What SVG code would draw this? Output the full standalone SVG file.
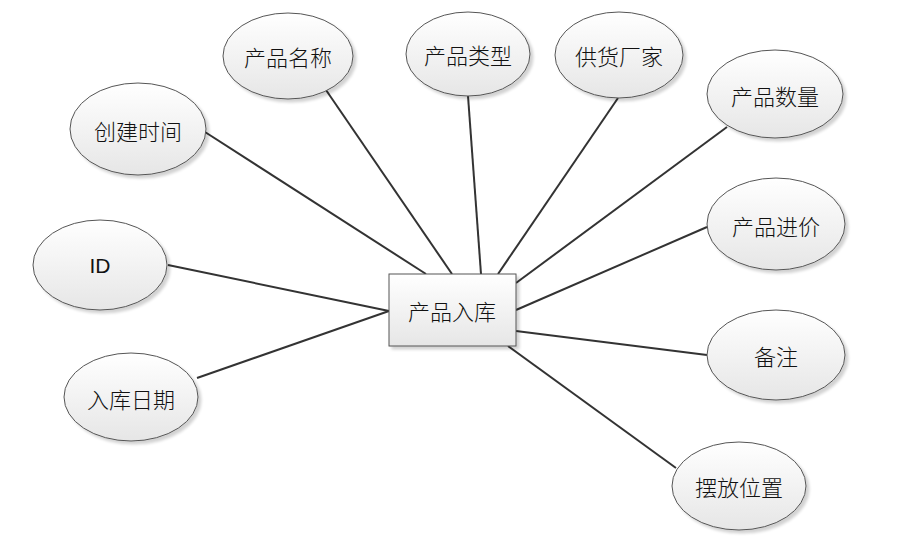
<svg xmlns="http://www.w3.org/2000/svg" width="920" height="544" viewBox="0 0 920 544">
<defs>
<linearGradient id="g" x1="0" y1="0" x2="0" y2="1">
<stop offset="0" stop-color="#ffffff"/>
<stop offset="1" stop-color="#e6e6e6"/>
</linearGradient>
<filter id="sh" x="-20%" y="-20%" width="150%" height="150%">
<feGaussianBlur in="SourceAlpha" stdDeviation="1.5"/>
<feOffset dx="3" dy="3" result="b"/>
<feComponentTransfer><feFuncA type="linear" slope="0.18"/></feComponentTransfer>
<feMerge><feMergeNode/><feMergeNode in="SourceGraphic"/></feMerge>
</filter>
</defs>
<style>
.n{fill:url(#g);stroke:#555;stroke-width:1;filter:url(#sh)}
.c{stroke:#333;stroke-width:2;fill:none}
.t{font-family:"Noto Sans CJK SC","Liberation Sans",sans-serif;font-size:22px;font-weight:300;fill:#111;text-anchor:middle;dominant-baseline:central}
.e{font-family:"Liberation Sans",sans-serif;font-size:21px;fill:#111;text-anchor:middle;dominant-baseline:central}
</style>
<rect width="920" height="544" fill="#fff"/>
<g id="connectors">
<line class="c" x1="205" y1="132" x2="426" y2="274"/>
<line class="c" x1="326" y1="90" x2="452" y2="274"/>
<line class="c" x1="468" y1="96" x2="481" y2="274"/>
<line class="c" x1="618" y1="98" x2="498" y2="274"/>
<line class="c" x1="727" y1="127" x2="516" y2="283"/>
<line class="c" x1="707" y1="227" x2="516" y2="310"/>
<line class="c" x1="707" y1="355" x2="516" y2="331"/>
<line class="c" x1="508" y1="346" x2="676" y2="468"/>
<line class="c" x1="168" y1="265" x2="389" y2="311"/>
<line class="c" x1="197" y1="378" x2="389" y2="311"/>
</g>
<g id="center">
<rect class="n" x="389" y="274" width="127" height="72"/>
<text class="t" x="452" y="310">产品入库</text>
</g>
<g id="n1"><ellipse class="n" cx="138" cy="129" rx="68" ry="46"/><text class="t" x="138" y="130">创建时间</text></g>
<g id="n2"><ellipse class="n" cx="288" cy="56" rx="65" ry="43"/><text class="t" x="288" y="56">产品名称</text></g>
<g id="n3"><ellipse class="n" cx="468" cy="54" rx="62" ry="42"/><text class="t" x="468" y="54">产品类型</text></g>
<g id="n4"><ellipse class="n" cx="619" cy="55" rx="64" ry="43"/><text class="t" x="619" y="55">供货厂家</text></g>
<g id="n5"><ellipse class="n" cx="775" cy="94" rx="68" ry="44"/><text class="t" x="775" y="95">产品数量</text></g>
<g id="n6"><ellipse class="n" cx="100" cy="265" rx="67" ry="45"/><text class="e" x="100" y="265">ID</text></g>
<g id="n7"><ellipse class="n" cx="776" cy="224" rx="69" ry="46"/><text class="t" x="776" y="225">产品进价</text></g>
<g id="n8"><ellipse class="n" cx="776" cy="355" rx="69" ry="45"/><text class="t" x="776" y="355">备注</text></g>
<g id="n9"><ellipse class="n" cx="131" cy="397" rx="67" ry="44"/><text class="t" x="131" y="398">入库日期</text></g>
<g id="n10"><ellipse class="n" cx="739" cy="486" rx="67" ry="44"/><text class="t" x="739" y="486">摆放位置</text></g>
</svg>
